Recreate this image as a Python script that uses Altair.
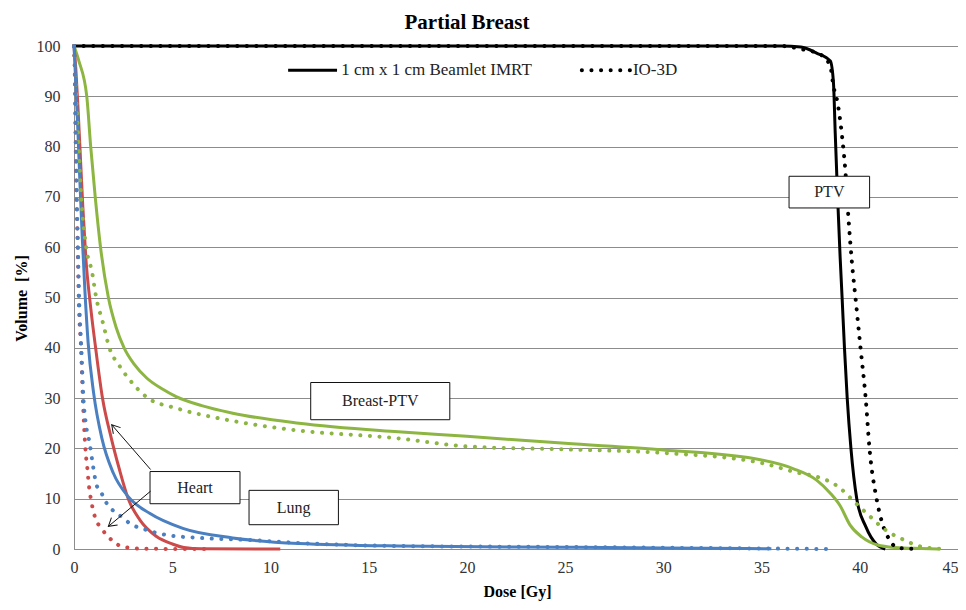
import altair as alt
import pandas as pd

# ---------------- data ----------------
structures = ["PTV", "Breast-PTV", "Heart", "Lung"]
colors = ["#000000", "#8DB542", "#CC4A4A", "#4A7FC1"]
plans = ["1 cm x 1 cm Beamlet IMRT", "IO-3D"]

x_ticks = [0, 5, 10, 15, 20, 25, 30, 35, 40, 45]
y_ticks = [0, 10, 20, 30, 40, 50, 60, 70, 80, 90, 100]

# IMRT (solid lines)
ptv_imrt_dose = [0, 36, 37, 37.8, 38.5, 38.66, 38.75, 38.87, 39.0, 39.1, 39.22, 39.36, 39.55, 39.85, 40.3, 40.86, 41.3]
ptv_imrt_vol = [100, 100, 99.8, 98.6, 97, 92.7, 82.7, 70.1, 58, 50, 40, 30, 20, 9.9, 4.5, 0.9, 0]

breast_imrt_dose = [0, 0.25, 0.65, 0.85, 1.08, 1.35, 1.75, 2.15, 2.55, 3.05, 3.7, 4.5, 5.2, 6.5, 8.08, 11.45, 16.5, 20, 25, 30, 35, 36.6, 37.8, 38.5, 39.0, 39.5, 40.1, 40.9, 41.8, 43.1, 44]
breast_imrt_vol = [100, 97, 90, 80, 70, 60, 50, 44, 40, 36.8, 34, 31.8, 30.3, 28.5, 27, 25, 23.3, 22.4, 21.0, 19.7, 17.7, 16.0, 13.7, 11.1, 8.6, 4.8, 2.4, 0.8, 0.3, 0.1, 0]

heart_imrt_dose = [0, 0.1, 0.2, 0.3, 0.45, 0.6, 0.85, 1.1, 1.45, 1.9, 2.3, 2.76, 3.35, 4.2, 5.0, 5.6, 6.5, 10.5]
heart_imrt_vol = [100, 95, 88, 80, 68, 58, 48, 40, 30, 22, 16, 10, 5.8, 2.5, 1.0, 0.3, 0.05, 0]

lung_imrt_dose = [0, 0.1, 0.2, 0.3, 0.42, 0.56, 0.72, 1.0, 1.42, 2.0, 2.76, 3.85, 5.54, 8.08, 11.45, 16.5, 25, 30, 35.5]
lung_imrt_vol = [100, 92, 83, 73, 62, 51, 41, 31, 22, 15.1, 10.4, 7.1, 4.1, 2.2, 1.1, 0.6, 0.35, 0.2, 0.05]

# IO-3D (dotted lines)
ptv_io_dose = [0, 36, 37, 38, 38.5, 38.66, 38.87, 39.1, 39.27, 39.42, 39.6, 39.78, 40.04, 40.3, 40.5, 40.86, 41.14, 41.5, 41.96, 43]
ptv_io_vol = [100, 100, 99.4, 98.3, 96, 92, 88.7, 82, 75, 66, 57, 50, 39.9, 30, 19.8, 9.9, 5.2, 1.9, 0.2, 0]

breast_io_dose = [0, 0.11, 0.24, 0.37, 0.62, 0.92, 1.13, 1.47, 1.8, 2.3, 2.8, 3.77, 5.2, 7.75, 11.1, 16.5, 20, 25, 30, 35, 36.8, 37.8, 38.9, 39.8, 40.35, 41.3, 42.2, 43.1, 44.3]
breast_io_vol = [100, 90, 80, 70, 60, 55, 50, 45, 40, 36.5, 33.8, 30, 28, 25.7, 23.7, 22, 20.4, 19.8, 19.1, 17.1, 15.2, 14.4, 12.4, 9.1, 7.1, 3.8, 1.9, 0.5, 0]

heart_io_dose = [0, 0.04, 0.08, 0.13, 0.19, 0.24, 0.36, 0.45, 0.52, 0.6, 0.68, 0.76, 0.88, 1.0, 1.15, 1.32, 1.66, 2.0, 2.42, 2.9, 3.5, 7]
heart_io_vol = [100, 95, 82, 70, 60, 50, 40, 30, 24, 19, 16, 12.6, 9.5, 7.3, 5.5, 4.5, 2.8, 1.5, 0.5, 0.2, 0.05, 0]

lung_io_dose = [0, 0.05, 0.09, 0.14, 0.2, 0.26, 0.37, 0.48, 0.6, 0.8, 0.95, 1.15, 1.4, 1.66, 2.0, 2.42, 2.84, 3.68, 4.7, 6.4, 8.9, 11.45, 16.5, 25, 30, 35, 38.3]
lung_io_vol = [100, 95, 82, 70, 60, 50, 40, 30, 25, 21, 17, 12.7, 11.1, 9.1, 7.6, 6.4, 5.1, 3.8, 2.8, 2.2, 1.8, 1.2, 0.6, 0.4, 0.25, 0.1, 0]

# annotation boxes (data coordinates)
box_labels = ["PTV", "Breast-PTV", "Heart", "Lung"]
box_x1 = [36.4, 12.05, 3.87, 8.91]
box_x2 = [40.5, 19.13, 8.45, 13.46]
box_y1 = [67.8, 25.7, 9.0, 4.83]
box_y2 = [74.1, 33.1, 15.4, 11.66]

# arrows from the "Heart" box
arrow_x1 = [3.9, 3.9]
arrow_y1 = [15.8, 11.5]
arrow_x2 = [1.92, 1.75]
arrow_y2 = [24.7, 4.5]
arrow_angle = [319, 230]

# in-plot legend
legend_x1 = [10.9, 25.85]
legend_x2 = [13.39, 28.3]
legend_y = [95.2, 95.2]
legend_tx = [13.6, 28.45]

# ---------------- build tables ----------------
series = [
    ("PTV", plans[0], ptv_imrt_dose, ptv_imrt_vol),
    ("Breast-PTV", plans[0], breast_imrt_dose, breast_imrt_vol),
    ("Heart", plans[0], heart_imrt_dose, heart_imrt_vol),
    ("Lung", plans[0], lung_imrt_dose, lung_imrt_vol),
    ("PTV", plans[1], ptv_io_dose, ptv_io_vol),
    ("Breast-PTV", plans[1], breast_io_dose, breast_io_vol),
    ("Heart", plans[1], heart_io_dose, heart_io_vol),
    ("Lung", plans[1], lung_io_dose, lung_io_vol),
]
rows = []
for s, p, ds, vs in series:
    for d, v in zip(ds, vs):
        rows.append({"structure": s, "plan": p, "dose": d, "vol": v})
df = pd.DataFrame(rows)

box_df = pd.DataFrame({
    "label": box_labels,
    "dose": box_x1, "dose2": box_x2, "vol": box_y1, "vol2": box_y2,
})
box_text_df = pd.DataFrame({
    "label": box_labels,
    "dose": [(a + b) / 2 for a, b in zip(box_x1, box_x2)],
    "vol": [(a + b) / 2 for a, b in zip(box_y1, box_y2)],
})
arrow_df = pd.DataFrame({
    "dose": arrow_x1, "vol": arrow_y1, "dose2": arrow_x2, "vol2": arrow_y2,
    "angle": arrow_angle,
})
legend_df = pd.DataFrame({
    "plan": plans, "dose": legend_x1, "dose2": legend_x2, "vol": legend_y,
})
legend_text_df = pd.DataFrame({"plan": plans, "dose": legend_tx, "vol": legend_y})

# ---------------- chart ----------------
FONT = "Liberation Serif"
GRAY = "#8c8c8c"

x_scale = alt.Scale(domain=[0, 45], nice=False)
y_scale = alt.Scale(domain=[0, 100], nice=False)
color_scale = alt.Scale(domain=structures, range=colors)

x_axis = alt.Axis(
    values=x_ticks, title="Dose [Gy]", grid=False, ticks=False,
    domainColor=GRAY, labelFont=FONT, labelFontSize=16, labelColor="#333333",
    labelPadding=10, labelFlush=False,
    labelAlign=alt.ExprRef(expr="datum.value == 45 ? 'right' : 'center'"),
    titleFont=FONT, titleFontSize=16, titleFontWeight="bold", titleColor="#000000",
    titleX=443, titleY=47, titleBaseline="alphabetic", titleAlign="center",
)
y_axis = alt.Axis(
    values=y_ticks, title="Volume\u00a0 [%]", grid=True, gridColor=GRAY, gridWidth=1,
    ticks=False, domainColor=GRAY, labelFont=FONT, labelFontSize=16,
    labelColor="#333333", labelPadding=14,
    titleFont=FONT, titleFontSize=16, titleFontWeight="bold", titleColor="#000000",
    titleX=-53, titleY=252, titleAngle=270, titleBaseline="middle", titleAlign="center",
)

X = alt.X("dose:Q", scale=x_scale, axis=x_axis)
Y = alt.Y("vol:Q", scale=y_scale, axis=y_axis)
Xp = alt.X("dose:Q", scale=x_scale)
Yp = alt.Y("vol:Q", scale=y_scale)

solid = alt.Chart(df).transform_filter(alt.datum.plan == plans[0]).mark_line(
    strokeWidth=3, interpolate="monotone"
).encode(
    x=X, y=Y,
    color=alt.Color("structure:N", scale=color_scale, legend=None),
)

dotted = alt.Chart(df).transform_filter(alt.datum.plan == plans[1]).mark_line(
    strokeWidth=4, strokeDash=[0.1, 9.5], strokeCap="round", interpolate="monotone"
).encode(
    x=Xp, y=Yp,
    color=alt.Color("structure:N", scale=color_scale, legend=None),
)

leg_solid = alt.Chart(legend_df).transform_filter(alt.datum.plan == plans[0]).mark_rule(
    strokeWidth=3, color="black"
).encode(x=Xp, x2="dose2:Q", y=Yp)

leg_dot = alt.Chart(legend_df).transform_filter(alt.datum.plan == plans[1]).mark_rule(
    strokeWidth=4, color="black", strokeDash=[0.1, 9.5], strokeCap="round"
).encode(x=Xp, x2="dose2:Q", y=Yp)

leg_text = alt.Chart(legend_text_df).mark_text(
    align="left", baseline="middle", font=FONT, fontSize=17, color="#222222"
).encode(x=Xp, y=Yp, text="plan:N")

boxes = alt.Chart(box_df).mark_rect(
    fill="white", stroke="#111111", strokeWidth=1
).encode(x=Xp, x2="dose2:Q", y=Yp, y2="vol2:Q")

box_text = alt.Chart(box_text_df).mark_text(
    align="center", baseline="middle", font=FONT, fontSize=16, color="#222222"
).encode(x=Xp, y=Yp, text="label:N")

arrow_lines = alt.Chart(arrow_df).mark_rule(
    strokeWidth=1, color="#111111"
).encode(x=Xp, y=Yp, x2="dose2:Q", y2="vol2:Q")

arrow_heads = alt.Chart(arrow_df).mark_point(
    shape="M -0.6 1 L 0 0 L 0.6 1", filled=False, stroke="#111111",
    strokeWidth=1, size=256, opacity=1
).encode(
    x=alt.X("dose2:Q", scale=x_scale),
    y=alt.Y("vol2:Q", scale=y_scale),
    angle=alt.Angle("angle:Q", scale=None),
)

chart = alt.layer(
    solid, dotted, leg_solid, leg_dot, leg_text, boxes, box_text, arrow_lines, arrow_heads
).properties(
    width=884,
    height=503,
    padding={"left": 66, "top": 38, "right": 0, "bottom": 52},
    autosize=alt.AutoSizeParams(type="none"),
    title=alt.TitleParams(
        text="Partial Breast", font=FONT, fontSize=21, fontWeight="bold",
        color="#000000", anchor="middle", dx=-49, offset=5,
    ),
).configure_view(stroke=GRAY, strokeWidth=1)

chart.save("out.html", embed_options={"renderer": "svg", "actions": False})
